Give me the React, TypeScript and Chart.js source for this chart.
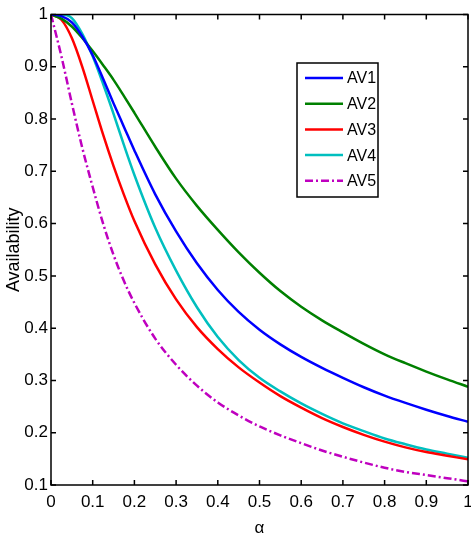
import React, { useEffect, useRef } from 'react';
import { Chart, registerables } from 'chart.js';

Chart.register(...registerables);

const alpha = [0, 0.025, 0.05, 0.075, 0.1, 0.125, 0.15, 0.175, 0.2, 0.25, 0.3, 0.35, 0.4, 0.45, 0.5, 0.55, 0.6, 0.65, 0.7, 0.75, 0.8, 0.85, 0.9, 0.95, 1.0];
const av1 = [1, 0.997, 0.985, 0.958, 0.922, 0.877, 0.83, 0.785, 0.74, 0.656, 0.585, 0.524, 0.473, 0.431, 0.397, 0.369, 0.345, 0.324, 0.305, 0.287, 0.271, 0.257, 0.244, 0.232, 0.221];
const av2 = [1, 0.992, 0.977, 0.955, 0.93, 0.903, 0.875, 0.844, 0.812, 0.747, 0.686, 0.634, 0.588, 0.545, 0.506, 0.471, 0.441, 0.415, 0.392, 0.37, 0.35, 0.333, 0.317, 0.302, 0.288];
const av3 = [1, 0.99, 0.955, 0.9, 0.835, 0.77, 0.71, 0.655, 0.605, 0.522, 0.455, 0.402, 0.36, 0.325, 0.296, 0.27, 0.248, 0.228, 0.211, 0.196, 0.183, 0.172, 0.163, 0.156, 0.149];
const av4 = [1, 1, 0.993, 0.963, 0.92, 0.867, 0.81, 0.75, 0.693, 0.592, 0.51, 0.44, 0.383, 0.339, 0.305, 0.279, 0.256, 0.236, 0.218, 0.203, 0.189, 0.178, 0.168, 0.16, 0.152];
const av5 = [1, 0.92, 0.83, 0.745, 0.67, 0.6, 0.54, 0.49, 0.448, 0.38, 0.33, 0.29, 0.258, 0.233, 0.212, 0.195, 0.18, 0.166, 0.154, 0.143, 0.133, 0.125, 0.119, 0.113, 0.107];

const seriesLabels = ['AV1', 'AV2', 'AV3', 'AV4', 'AV5'];
const seriesValues = [av1, av2, av3, av4, av5];
const seriesColors = ['#0000FF', '#008000', '#FF0000', '#00BFBF', '#BF00BF'];
const seriesDashes: number[][] = [[], [], [], [], [8, 3, 2, 3]];

const xTickLabels = ['0', '0.1', '0.2', '0.3', '0.4', '0.5', '0.6', '0.7', '0.8', '0.9', '1'];
const yTickLabels = ['0.1', '0.2', '0.3', '0.4', '0.5', '0.6', '0.7', '0.8', '0.9', '1'];
const xTitle = 'α';
const yTitle = 'Availability';

const FONT = "'Liberation Sans', Arial, sans-serif";

const framePlugin = {
  id: 'frameAndLegend',
  afterDatasetsDraw(chart: any) {
    const { ctx, chartArea: a, scales } = chart;
    ctx.save();
    ctx.strokeStyle = '#000';
    ctx.lineWidth = 1.5;
    ctx.strokeRect(a.left, a.top, a.right - a.left, a.bottom - a.top);
    const L = 5;
    ctx.beginPath();
    scales.x.ticks.forEach((t: any) => {
      const px = scales.x.getPixelForValue(t.value);
      ctx.moveTo(px, a.bottom);
      ctx.lineTo(px, a.bottom - L);
      ctx.moveTo(px, a.top);
      ctx.lineTo(px, a.top + L);
    });
    scales.y.ticks.forEach((t: any) => {
      const py = scales.y.getPixelForValue(t.value);
      ctx.moveTo(a.left, py);
      ctx.lineTo(a.left + L, py);
      ctx.moveTo(a.right, py);
      ctx.lineTo(a.right - L, py);
    });
    ctx.stroke();

    // legend box
    const bx = 297, by = 63, bw = 81, bh = 134;
    ctx.fillStyle = '#fff';
    ctx.fillRect(bx, by, bw, bh);
    ctx.lineWidth = 1.5;
    ctx.strokeRect(bx, by, bw, bh);
    ctx.font = `16px ${FONT}`;
    ctx.textBaseline = 'middle';
    ctx.textAlign = 'left';
    chart.data.datasets.forEach((ds: any, i: number) => {
      const y = 78 + i * 25.7;
      ctx.beginPath();
      ctx.strokeStyle = ds.borderColor;
      ctx.lineWidth = 2.5;
      ctx.setLineDash(ds.borderDash || []);
      ctx.moveTo(305, y);
      ctx.lineTo(343, y);
      ctx.stroke();
      ctx.setLineDash([]);
      ctx.fillStyle = '#000';
      ctx.fillText(ds.label, 347, y + 1);
    });
    ctx.restore();
  },
};

export default function App() {
  const ref = useRef<HTMLCanvasElement | null>(null);
  useEffect(() => {
    if (!ref.current) return;
    const chart = new Chart(ref.current, {
      type: 'line',
      data: {
        datasets: seriesLabels.map((label, i) => ({
          label,
          data: alpha.map((x, j) => ({ x, y: seriesValues[i][j] })),
          borderColor: seriesColors[i],
          backgroundColor: seriesColors[i],
          borderWidth: 2.5,
          borderDash: seriesDashes[i],
          pointRadius: 0,
          fill: false,
          cubicInterpolationMode: 'monotone',
        })),
      },
      options: {
        animation: false,
        responsive: false,
        devicePixelRatio: 1,
        layout: { padding: { left: 0, right: 3, top: 14.5, bottom: 0 } },
        plugins: { legend: { display: false }, tooltip: { enabled: false } },
        scales: {
          x: {
            type: 'linear',
            min: 0,
            max: 1,
            grid: { display: false, drawTicks: false },
            border: { display: false },
            afterFit: (s: any) => {
              s.height = 50;
              s.paddingLeft = 0;
              s.paddingRight = 0;
            },
            ticks: {
              stepSize: 0.1,
              autoSkip: false,
              maxRotation: 0,
              padding: 7,
              color: '#000',
              font: { family: FONT, size: 17 },
              callback: (v: any) => xTickLabels[Math.round(Number(v) * 10)],
            },
            title: {
              display: true,
              text: xTitle,
              color: '#000',
              font: { family: FONT, size: 17, lineHeight: 0.75 },
              padding: { top: 0, bottom: 0 },
            },
          },
          y: {
            type: 'linear',
            min: 0.1,
            max: 1,
            grid: { display: false, drawTicks: false },
            border: { display: false },
            afterFit: (s: any) => {
              s.width = 51;
              s.paddingTop = 0;
              s.paddingBottom = 0;
            },
            ticks: {
              stepSize: 0.1,
              autoSkip: false,
              padding: 3,
              color: '#000',
              font: { family: FONT, size: 17 },
              callback: (v: any) => yTickLabels[Math.round(Number(v) * 10) - 1],
            },
            title: {
              display: true,
              text: yTitle,
              color: '#000',
              font: { family: FONT, size: 18 },
              padding: { top: 3, bottom: 0 },
            },
          },
        },
      },
      plugins: [framePlugin],
    } as any);
    return () => chart.destroy();
  }, []);
  return (
    <div style={{ position: 'absolute', left: 0, top: 0, width: 471, height: 535 }}>
      <canvas ref={ref} width={471} height={535} style={{ display: 'block' }} />
    </div>
  );
}
